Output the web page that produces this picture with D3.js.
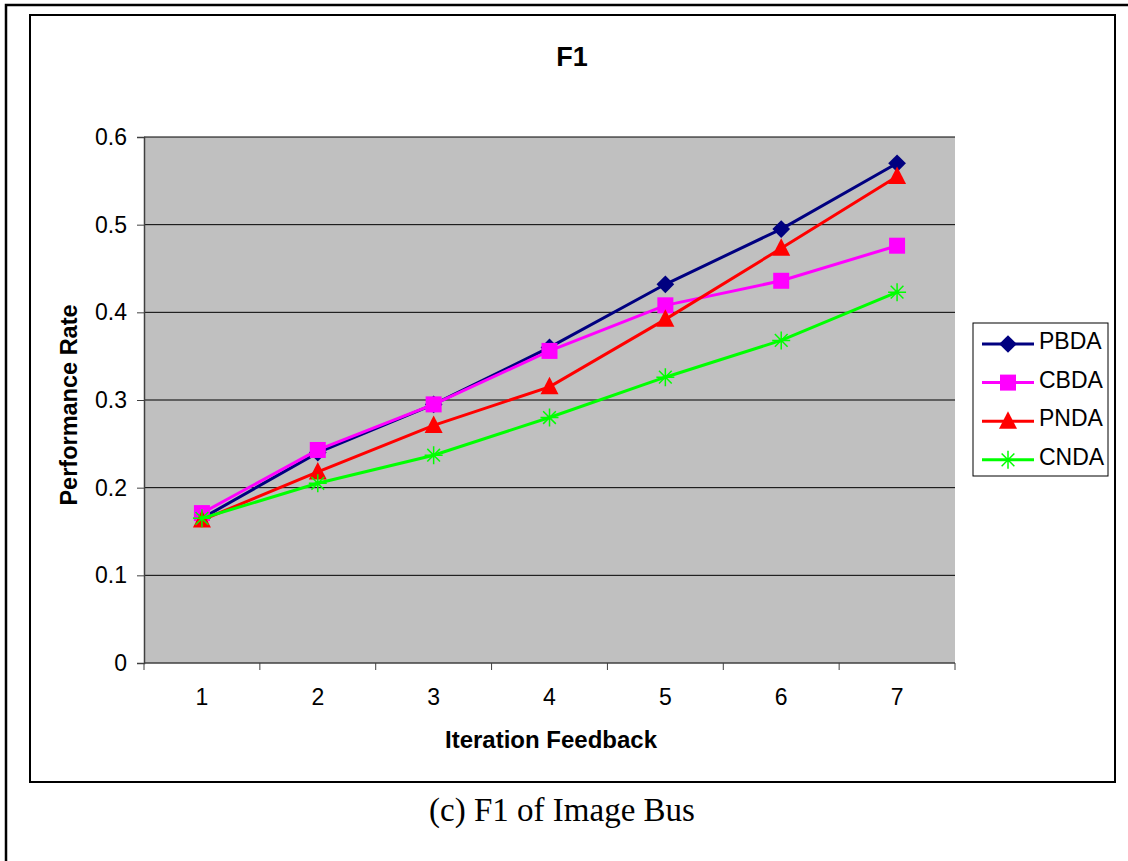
<!DOCTYPE html>
<html>
<head>
<meta charset="utf-8">
<script src="https://cdn.jsdelivr.net/npm/d3@7"></script>
<style>
  body { margin: 0; background: #fff; }
</style>
</head>
<body>
<script>
var iterations = ["1", "2", "3", "4", "5", "6", "7"];
var yTicks = [0, 0.1, 0.2, 0.3, 0.4, 0.5, 0.6];

var pbda = [0.165, 0.240, 0.295, 0.360, 0.432, 0.495, 0.570];
var cbda = [0.171, 0.243, 0.295, 0.356, 0.408, 0.436, 0.476];
var pnda = [0.163, 0.218, 0.271, 0.315, 0.392, 0.473, 0.555];
var cnda = [0.165, 0.205, 0.237, 0.280, 0.326, 0.368, 0.423];

var seriesNames = ["PBDA", "CBDA", "PNDA", "CNDA"];
var seriesValues = [pbda, cbda, pnda, cnda];
var seriesColors = ["#000080", "#FF00FF", "#FF0000", "#00FF00"];
var seriesMarks = ["diamond", "square", "triangle", "star"];

var width = 1128;
var height = 861;
var sans = "'Liberation Sans', Arial, sans-serif";

var svg = d3.select("body").append("svg").attr("width", width).attr("height", height)
  .attr("font-family", sans);

// outer frame and chart frame
svg.append("rect").attr("x", 6).attr("y", 5).attr("width", 1130).attr("height", 870)
  .attr("fill", "none").attr("stroke", "#000").attr("stroke-width", 2.5);
svg.append("rect").attr("x", 30).attr("y", 15).attr("width", 1085).attr("height", 767)
  .attr("fill", "#fff").attr("stroke", "#000").attr("stroke-width", 2);

var plot = {left: 144, top: 137, right: 955, bottom: 663};

var xScale = d3.scaleBand().domain(iterations).range([plot.left, plot.right]);
var yScale = d3.scaleLinear().domain([0, 0.6]).range([plot.bottom, plot.top]);

svg.append("rect")
  .attr("x", plot.left).attr("y", plot.top)
  .attr("width", plot.right - plot.left).attr("height", plot.bottom - plot.top)
  .attr("fill", "#C0C0C0");

// gridlines
svg.append("g").selectAll("line").data(yTicks.slice(1)).enter().append("line")
  .attr("x1", plot.left).attr("x2", plot.right)
  .attr("y1", function(d) { return yScale(d); })
  .attr("y2", function(d) { return yScale(d); })
  .attr("stroke", "#000").attr("stroke-width", 1);

// axes
var axisY = d3.axisLeft(yScale).tickValues(yTicks).tickSize(7).tickPadding(10)
  .tickFormat(function(d) { return d === 0 ? "0" : d3.format(".1f")(d); });
var gy = svg.append("g").attr("transform", "translate(" + plot.left + ",0)").call(axisY);

var axisX = d3.axisBottom(xScale).tickSize(0).tickPadding(26);
var gx = svg.append("g").attr("transform", "translate(0," + plot.bottom + ")").call(axisX);

// category boundary ticks
var bounds = iterations.map(function(d) { return xScale(d); }).concat([plot.right]);
svg.append("g").selectAll("line").data(bounds).enter().append("line")
  .attr("x1", function(d) { return d; }).attr("x2", function(d) { return d; })
  .attr("y1", plot.bottom).attr("y2", plot.bottom + 7)
  .attr("stroke", "#404040").attr("stroke-width", 1);

[gx, gy].forEach(function(g) {
  g.attr("font-size", 23).attr("font-family", sans);
  g.selectAll(".domain").attr("stroke", "#404040").attr("stroke-width", 1.5);
  g.selectAll(".tick line").attr("stroke", "#404040");
  g.selectAll("text").attr("fill", "#000");
});
gx.select(".domain").attr("d", "M" + plot.left + ",0H" + plot.right);

// series
var line = d3.line()
  .x(function(d, i) { return xScale(iterations[i]) + xScale.bandwidth() / 2; })
  .y(function(d) { return yScale(d); });

function drawMark(g, type, color, x, y) {
  if (type === "diamond") {
    g.append("path").attr("d", d3.symbol().type(d3.symbolDiamond2).size(200)())
      .attr("transform", "translate(" + x + "," + y + ")").attr("fill", color);
  } else if (type === "square") {
    g.append("rect").attr("x", x - 8).attr("y", y - 8).attr("width", 16).attr("height", 16)
      .attr("fill", color);
  } else if (type === "triangle") {
    g.append("path").attr("d", "M" + x + "," + (y - 10) + "L" + (x + 9) + "," + (y + 7.5) + "L" + (x - 9) + "," + (y + 7.5) + "Z")
      .attr("fill", color);
  } else {
    var r = 9;
    var d = "";
    [0, 45, 90, 135].forEach(function(a) {
      var rad = a * Math.PI / 180;
      d += "M" + (x - r * Math.sin(rad)) + "," + (y - r * Math.cos(rad)) +
           "L" + (x + r * Math.sin(rad)) + "," + (y + r * Math.cos(rad));
    });
    g.append("path").attr("d", d).attr("stroke", color).attr("stroke-width", 1.5).attr("fill", "none");
  }
}

seriesValues.forEach(function(vals, s) {
  var g = svg.append("g");
  g.append("path").datum(vals).attr("d", line)
    .attr("fill", "none").attr("stroke", seriesColors[s]).attr("stroke-width", 3);
  vals.forEach(function(v, i) {
    drawMark(g, seriesMarks[s], seriesColors[s], xScale(iterations[i]) + xScale.bandwidth() / 2, yScale(v));
  });
});

// titles
svg.append("text").attr("x", 572).attr("y", 66).attr("text-anchor", "middle")
  .attr("font-size", 27).attr("font-weight", "bold").text("F1");
svg.append("text").attr("x", 551).attr("y", 748).attr("text-anchor", "middle")
  .attr("font-size", 24).attr("font-weight", "bold").text("Iteration Feedback");
svg.append("text").attr("transform", "translate(77,405) rotate(-90)")
  .attr("text-anchor", "middle").attr("font-size", 23.5).attr("font-weight", "bold").text("Performance Rate");

// legend
var legend = svg.append("g");
legend.append("rect").attr("x", 973).attr("y", 323).attr("width", 135).attr("height", 153)
  .attr("fill", "#fff").attr("stroke", "#000").attr("stroke-width", 1);
seriesNames.forEach(function(name, s) {
  var ly = 344 + s * 38.6;
  legend.append("line").attr("x1", 982).attr("x2", 1034).attr("y1", ly).attr("y2", ly)
    .attr("stroke", seriesColors[s]).attr("stroke-width", 3);
  drawMark(legend, seriesMarks[s], seriesColors[s], 1008, ly);
  legend.append("text").attr("x", 1039).attr("y", ly + 5).attr("font-size", 23).text(name);
});

// caption
svg.append("text").attr("x", 562).attr("y", 821).attr("text-anchor", "middle")
  .attr("font-family", "'Liberation Serif', 'Times New Roman', serif").attr("font-size", 33)
  .text("(c) F1 of Image Bus");
</script>
</body>
</html>
